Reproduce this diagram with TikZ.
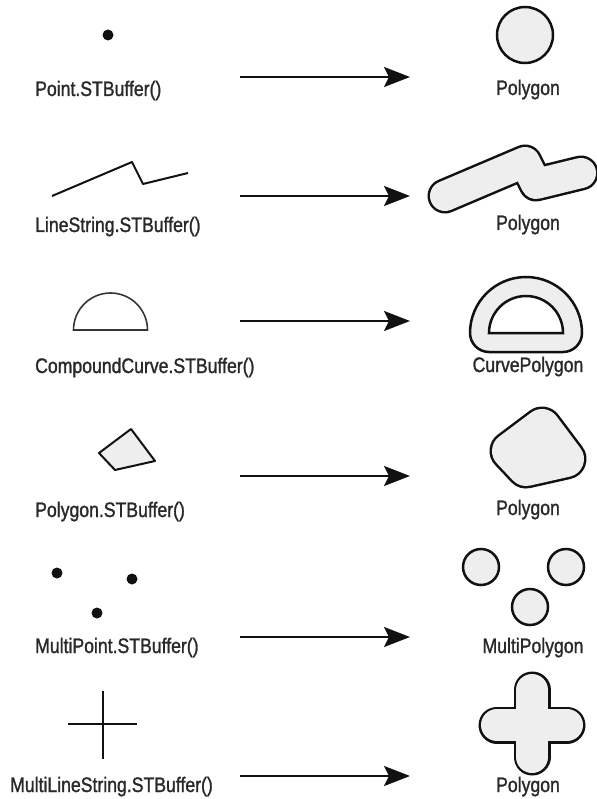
\documentclass[tikz,border=0pt]{standalone}
\usepackage{fontspec}
\setmainfont{Liberation Sans}[FakeStretch=0.84,FakeBold=1.3]
\usetikzlibrary{arrows.meta}
\definecolor{ink}{HTML}{111111}
\definecolor{bufgray}{HTML}{EEEEEE}

\begin{document}
\begin{tikzpicture}[x=1pt,y=-1pt,
  lbl/.style={font=\fontsize{21}{24}\selectfont,inner sep=0pt,text=ink!90},
  conv/.style={ink,line width=2.4pt,-{Stealth[length=26pt,width=20pt,inset=5pt]}},
  geom/.style={ink,line width=2pt,line join=round},
  outl/.style={ink,line width=2.5pt,fill=bufgray}]
\useasboundingbox (0,0) rectangle (596,799);

% Source geometries (left column)
\fill[ink] (108,35) circle (5.5);
\draw[geom] (52,196) -- (132,162) -- (143,184) -- (188,173);
\draw[ink!85,line width=1.6pt] (73.5,330) arc (180:360:37) -- cycle;
\filldraw[geom,fill=bufgray] (99,453) -- (131,429) -- (155,461) -- (115,470) -- cycle;
\foreach \p in {(57,573),(132,579),(97,613)}
  \fill[ink] \p circle (5.5);
\draw[geom] (103,691) -- (103,759) (68,724) -- (137,724);

% Buffered results (right column): thick black pass, then grey pass on top
\draw[outl] (525,35) circle (28);

\draw[ink,line width=35pt,line cap=round,line join=round]
  (445,196) -- (525,162) -- (536,184) -- (581,173);
\draw[bufgray,line width=30pt,line cap=round,line join=round]
  (445,196) -- (525,162) -- (536,184) -- (581,173);

\draw[outl] (470,333) arc (180:360:56) arc (0:90:19) -- (489,352) arc (90:180:19) -- cycle;
\draw[ink,line width=2.5pt,fill=white] (489,333) arc (180:360:37) -- cycle;

\filldraw[ink,line width=41pt,line join=round]
  (510,451) -- (542,427) -- (566,459) -- (526,468) -- cycle;
\filldraw[bufgray,line width=36pt,line join=round]
  (510,451) -- (542,427) -- (566,459) -- (526,468) -- cycle;

\foreach \p in {(481,567),(566,567),(530,607)}
  \draw[outl] \p circle (18);

\draw[ink,line width=37pt,line cap=round]
  (532,690) -- (532,757) (497,725) -- (567,725);
\draw[bufgray,line width=32pt,line cap=round]
  (532,690) -- (532,757) (497,725) -- (567,725);

% Method names
\foreach \n/\x/\y/\txt in {pt/35/96/Point.STBuffer(),
    ls/35/232/LineString.STBuffer(),
    cc/35/373/CompoundCurve.STBuffer(),
    pg/35/517/Polygon.STBuffer(),
    mp/35/653/MultiPoint.STBuffer(),
    mls/10/792/MultiLineString.STBuffer()}
  \node[lbl,anchor=base west] (\n) at (\x,\y) {\txt};

% Result types
\foreach \n/\x/\y/\txt in {rpt/528/95/Polygon,
    rls/528/230/Polygon,
    rcc/528/372/CurvePolygon,
    rpg/528/515/Polygon,
    rmp/533/653/MultiPolygon,
    rmls/528/792/Polygon}
  \node[lbl,anchor=base] (\n) at (\x,\y) {\txt};

% Arrows
\foreach \i/\y in {1/77,2/196,3/321,4/476,5/637,6/776} {
  \coordinate (s\i) at (240,\y);
  \coordinate (e\i) at (410,\y);
  \draw[conv] (s\i) -- (e\i);
}
\end{tikzpicture}
\end{document}
